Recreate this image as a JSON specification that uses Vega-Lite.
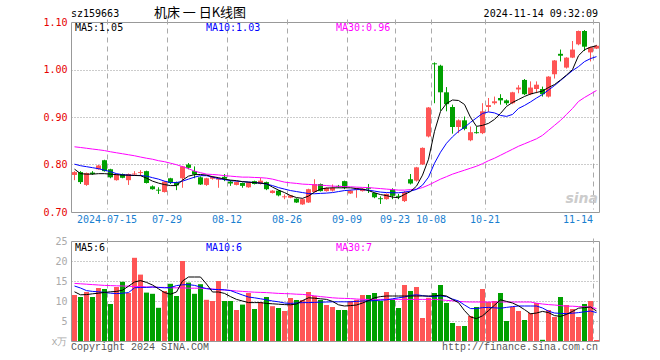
{
"$schema": "https://vega.github.io/schema/vega-lite/v6.json",
"padding": {"left": 42, "top": 6, "right": 61, "bottom": 9},
"background": "#ffffff",
"bounds": "flush",
"spacing": 29,
"config": {
  "view": {"stroke": "#999999", "strokeWidth": 1},
  "axis": {"labelFont": "DejaVu Sans Mono", "labelFontSize": 10, "ticks": false, "domain": false, "titleFontSize": 1, "labelOverlap": false},
  "axisY": {"labelOverlap": false, "labelSeparation": 0},
  "text": {"font": "DejaVu Sans Mono", "fontSize": 10}
},
"datasets": {
"k": [
{"d":"2024-07-05","o":0.778,"h":0.786,"l":0.767,"c":0.784,"v":11.5,"m5":0.7902,"m10":0.8007,"m30":0.8373,"v5":12.3,"v10":13.75,"v30":14.4},
{"d":"2024-07-08","o":0.784,"h":0.786,"l":0.759,"c":0.763,"v":11.0,"m5":0.7807,"m10":0.7975,"m30":0.8358,"v5":11.55,"v10":13.25,"v30":14.3},
{"d":"2024-07-09","o":0.757,"h":0.783,"l":0.755,"c":0.782,"v":12.25,"m5":0.7797,"m10":0.7954,"m30":0.8342,"v5":11.6,"v10":12.6,"v30":14.2},
{"d":"2024-07-10","o":0.783,"h":0.786,"l":0.778,"c":0.780,"v":11.0,"m5":0.7797,"m10":0.7933,"m30":0.8325,"v5":11.8,"v10":12.4,"v30":14.1},
{"d":"2024-07-11","o":0.790,"h":0.799,"l":0.789,"c":0.798,"v":13.25,"m5":0.7807,"m10":0.7912,"m30":0.8310,"v5":11.95,"v10":12.3,"v30":14.0},
{"d":"2024-07-12","o":0.809,"h":0.810,"l":0.785,"c":0.786,"v":13.0,"m5":0.7807,"m10":0.7880,"m30":0.8293,"v5":12.15,"v10":12.15,"v30":13.9},
{"d":"2024-07-15","o":0.790,"h":0.791,"l":0.771,"c":0.773,"v":9.25,"m5":0.7797,"m10":0.7849,"m30":0.8268,"v5":12.3,"v10":11.95,"v30":13.85},
{"d":"2024-07-16","o":0.767,"h":0.781,"l":0.766,"c":0.780,"v":13.5,"m5":0.7786,"m10":0.7807,"m30":0.8247,"v5":12.4,"v10":11.85,"v30":13.8},
{"d":"2024-07-17","o":0.780,"h":0.781,"l":0.771,"c":0.772,"v":14.8,"m5":0.7776,"m10":0.7786,"m30":0.8226,"v5":12.7,"v10":11.95,"v30":13.75},
{"d":"2024-07-18","o":0.767,"h":0.781,"l":0.757,"c":0.780,"v":12.0,"m5":0.7776,"m10":0.7776,"m30":0.8205,"v5":13.7,"v10":12.1,"v30":13.7},
{"d":"2024-07-19","o":0.779,"h":0.786,"l":0.776,"c":0.781,"v":20.8,"m5":0.7769,"m10":0.7769,"m30":0.8184,"v5":14.75,"v10":13.3,"v30":13.6},
{"d":"2024-07-22","o":0.782,"h":0.788,"l":0.776,"c":0.784,"v":16.6,"m5":0.7765,"m10":0.7769,"m30":0.8157,"v5":15.1,"v10":13.4,"v30":13.6},
{"d":"2024-07-23","o":0.786,"h":0.787,"l":0.760,"c":0.761,"v":12.1,"m5":0.7713,"m10":0.7755,"m30":0.8132,"v5":14.65,"v10":13.4,"v30":13.5},
{"d":"2024-07-24","o":0.754,"h":0.756,"l":0.747,"c":0.748,"v":11.8,"m5":0.7650,"m10":0.7723,"m30":0.8111,"v5":14.0,"v10":13.5,"v30":13.5},
{"d":"2024-07-25","o":0.747,"h":0.752,"l":0.738,"c":0.745,"v":8.3,"m5":0.7608,"m10":0.7692,"m30":0.8080,"v5":13.05,"v10":13.4,"v30":13.4},
{"d":"2024-07-26","o":0.742,"h":0.765,"l":0.741,"c":0.764,"v":12.5,"m5":0.7577,"m10":0.7650,"m30":0.8059,"v5":12.1,"v10":13.3,"v30":13.4},
{"d":"2024-07-29","o":0.771,"h":0.772,"l":0.759,"c":0.761,"v":14.3,"m5":0.7556,"m10":0.7619,"m30":0.8027,"v5":11.7,"v10":13.35,"v30":13.3},
{"d":"2024-07-30","o":0.763,"h":0.764,"l":0.746,"c":0.756,"v":11.25,"m5":0.7556,"m10":0.7619,"m30":0.7996,"v5":12.25,"v10":13.85,"v30":13.3},
{"d":"2024-07-31","o":0.771,"h":0.797,"l":0.751,"c":0.796,"v":20.0,"m5":0.7671,"m10":0.7650,"m30":0.7954,"v5":15.0,"v10":14.05,"v30":13.3},
{"d":"2024-08-01","o":0.800,"h":0.803,"l":0.790,"c":0.793,"v":14.6,"m5":0.7755,"m10":0.7692,"m30":0.7912,"v5":16.0,"v10":14.1,"v30":13.2},
{"d":"2024-08-02","o":0.786,"h":0.796,"l":0.771,"c":0.779,"v":11.8,"m5":0.7786,"m10":0.7734,"m30":0.7860,"v5":16.0,"v10":13.9,"v30":13.2},
{"d":"2024-08-05","o":0.773,"h":0.775,"l":0.757,"c":0.758,"v":14.2,"m5":0.7790,"m10":0.7765,"m30":0.7828,"v5":16.0,"v10":13.5,"v30":13.2},
{"d":"2024-08-06","o":0.757,"h":0.772,"l":0.755,"c":0.771,"v":10.3,"m5":0.7776,"m10":0.7765,"m30":0.7797,"v5":14.25,"v10":13.1,"v30":13.1},
{"d":"2024-08-07","o":0.770,"h":0.776,"l":0.768,"c":0.774,"v":10.0,"m5":0.7744,"m10":0.7734,"m30":0.7790,"v5":12.25,"v10":12.9,"v30":13.0},
{"d":"2024-08-08","o":0.768,"h":0.772,"l":0.751,"c":0.771,"v":15.0,"m5":0.7723,"m10":0.7702,"m30":0.7780,"v5":12.25,"v10":12.85,"v30":12.85},
{"d":"2024-08-09","o":0.774,"h":0.780,"l":0.765,"c":0.770,"v":10.0,"m5":0.7692,"m10":0.7681,"m30":0.7765,"v5":11.9,"v10":12.8,"v30":12.75},
{"d":"2024-08-12","o":0.764,"h":0.767,"l":0.755,"c":0.760,"v":10.0,"m5":0.7671,"m10":0.7660,"m30":0.7755,"v5":11.1,"v10":12.6,"v30":12.65},
{"d":"2024-08-13","o":0.757,"h":0.764,"l":0.756,"c":0.763,"v":7.75,"m5":0.7660,"m10":0.7650,"m30":0.7744,"v5":10.4,"v10":12.05,"v30":12.5},
{"d":"2024-08-14","o":0.761,"h":0.762,"l":0.751,"c":0.755,"v":9.1,"m5":0.7639,"m10":0.7639,"m30":0.7734,"v5":10.0,"v10":11.5,"v30":12.4},
{"d":"2024-08-15","o":0.752,"h":0.763,"l":0.751,"c":0.762,"v":12.0,"m5":0.7629,"m10":0.7629,"m30":0.7734,"v5":9.6,"v10":11.0,"v30":12.3},
{"d":"2024-08-16","o":0.765,"h":0.766,"l":0.758,"c":0.759,"v":8.0,"m5":0.7619,"m10":0.7619,"m30":0.7727,"v5":9.6,"v10":10.8,"v30":12.2},
{"d":"2024-08-19","o":0.759,"h":0.772,"l":0.758,"c":0.766,"v":9.75,"m5":0.7608,"m10":0.7608,"m30":0.7723,"v5":9.6,"v10":10.55,"v30":12.15},
{"d":"2024-08-20","o":0.763,"h":0.764,"l":0.746,"c":0.748,"v":11.0,"m5":0.7597,"m10":0.7587,"m30":0.7713,"v5":9.4,"v10":10.3,"v30":12.1},
{"d":"2024-08-21","o":0.740,"h":0.746,"l":0.739,"c":0.745,"v":8.7,"m5":0.7524,"m10":0.7556,"m30":0.7692,"v5":9.3,"v10":10.0,"v30":12.0},
{"d":"2024-08-22","o":0.745,"h":0.746,"l":0.733,"c":0.735,"v":8.25,"m5":0.7461,"m10":0.7514,"m30":0.7660,"v5":9.2,"v10":9.8,"v30":11.9},
{"d":"2024-08-23","o":0.731,"h":0.737,"l":0.727,"c":0.733,"v":7.5,"m5":0.7409,"m10":0.7482,"m30":0.7629,"v5":9.1,"v10":9.5,"v30":11.85},
{"d":"2024-08-26","o":0.730,"h":0.736,"l":0.729,"c":0.735,"v":10.75,"m5":0.7346,"m10":0.7451,"m30":0.7614,"v5":9.05,"v10":9.4,"v30":11.8},
{"d":"2024-08-27","o":0.728,"h":0.729,"l":0.719,"c":0.720,"v":10.25,"m5":0.7304,"m10":0.7430,"m30":0.7602,"v5":9.25,"v10":9.5,"v30":11.7},
{"d":"2024-08-28","o":0.716,"h":0.728,"l":0.715,"c":0.727,"v":10.25,"m5":0.7287,"m10":0.7409,"m30":0.7587,"v5":10.1,"v10":9.6,"v30":11.65},
{"d":"2024-08-29","o":0.720,"h":0.749,"l":0.719,"c":0.748,"v":12.25,"m5":0.7335,"m10":0.7388,"m30":0.7581,"v5":10.8,"v10":9.6,"v30":11.5},
{"d":"2024-08-30","o":0.742,"h":0.769,"l":0.741,"c":0.759,"v":11.25,"m5":0.7419,"m10":0.7384,"m30":0.7572,"v5":10.7,"v10":9.65,"v30":11.3},
{"d":"2024-09-02","o":0.759,"h":0.760,"l":0.743,"c":0.744,"v":10.25,"m5":0.7482,"m10":0.7392,"m30":0.7566,"v5":10.55,"v10":9.7,"v30":11.1},
{"d":"2024-09-03","o":0.744,"h":0.752,"l":0.743,"c":0.751,"v":9.0,"m5":0.7503,"m10":0.7398,"m30":0.7556,"v5":10.4,"v10":9.75,"v30":10.95},
{"d":"2024-09-04","o":0.745,"h":0.758,"l":0.743,"c":0.751,"v":8.5,"m5":0.7509,"m10":0.7409,"m30":0.7545,"v5":9.9,"v10":9.8,"v30":10.8},
{"d":"2024-09-05","o":0.755,"h":0.757,"l":0.751,"c":0.753,"v":7.75,"m5":0.7509,"m10":0.7430,"m30":0.7539,"v5":9.05,"v10":9.8,"v30":10.7},
{"d":"2024-09-06","o":0.765,"h":0.766,"l":0.748,"c":0.751,"v":7.75,"m5":0.7509,"m10":0.7451,"m30":0.7535,"v5":8.75,"v10":9.8,"v30":10.65},
{"d":"2024-09-09","o":0.739,"h":0.746,"l":0.738,"c":0.745,"v":10.0,"m5":0.7509,"m10":0.7461,"m30":0.7530,"v5":8.85,"v10":9.8,"v30":10.6},
{"d":"2024-09-10","o":0.747,"h":0.751,"l":0.730,"c":0.750,"v":10.3,"m5":0.7493,"m10":0.7472,"m30":0.7524,"v5":9.0,"v10":9.9,"v30":10.5},
{"d":"2024-09-11","o":0.744,"h":0.750,"l":0.743,"c":0.749,"v":11.5,"m5":0.7482,"m10":0.7472,"m30":0.7518,"v5":9.5,"v10":10.0,"v30":10.4},
{"d":"2024-09-12","o":0.751,"h":0.759,"l":0.740,"c":0.749,"v":11.5,"m5":0.7451,"m10":0.7461,"m30":0.7514,"v5":10.1,"v10":10.05,"v30":10.4},
{"d":"2024-09-13","o":0.740,"h":0.741,"l":0.729,"c":0.731,"v":12.0,"m5":0.7405,"m10":0.7440,"m30":0.7503,"v5":10.8,"v10":10.1,"v30":10.4},
{"d":"2024-09-18","o":0.729,"h":0.733,"l":0.717,"c":0.727,"v":10.0,"m5":0.7367,"m10":0.7419,"m30":0.7493,"v5":11.1,"v10":10.2,"v30":10.4},
{"d":"2024-09-19","o":0.727,"h":0.739,"l":0.726,"c":0.738,"v":12.25,"m5":0.7346,"m10":0.7409,"m30":0.7482,"v5":11.25,"v10":10.3,"v30":10.4},
{"d":"2024-09-20","o":0.748,"h":0.750,"l":0.727,"c":0.734,"v":10.4,"m5":0.7314,"m10":0.7405,"m30":0.7472,"v5":11.25,"v10":10.55,"v30":10.4},
{"d":"2024-09-23","o":0.734,"h":0.738,"l":0.727,"c":0.732,"v":8.25,"m5":0.7300,"m10":0.7405,"m30":0.7461,"v5":11.25,"v10":10.8,"v30":10.4},
{"d":"2024-09-24","o":0.723,"h":0.744,"l":0.721,"c":0.742,"v":14.0,"m5":0.7371,"m10":0.7419,"m30":0.7461,"v5":11.25,"v10":11.0,"v30":10.4},
{"d":"2024-09-25","o":0.769,"h":0.780,"l":0.758,"c":0.760,"v":12.5,"m5":0.7430,"m10":0.7440,"m30":0.7472,"v5":11.25,"v10":11.4,"v30":10.4},
{"d":"2024-09-26","o":0.766,"h":0.795,"l":0.764,"c":0.794,"v":13.5,"m5":0.7545,"m10":0.7476,"m30":0.7482,"v5":11.25,"v10":11.55,"v30":10.4},
{"d":"2024-09-27","o":0.800,"h":0.836,"l":0.799,"c":0.835,"v":5.75,"m5":0.7776,"m10":0.7566,"m30":0.7514,"v5":11.25,"v10":11.35,"v30":10.4},
{"d":"2024-09-30","o":0.859,"h":0.921,"l":0.857,"c":0.920,"v":10.8,"m5":0.8111,"m10":0.7734,"m30":0.7566,"v5":11.25,"v10":11.15,"v30":10.4},
{"d":"2024-10-08","o":1.013,"h":1.015,"l":0.929,"c":1.011,"v":12.0,"m5":0.8698,"m10":0.8027,"m30":0.7629,"v5":11.3,"v10":11.1,"v30":10.4},
{"d":"2024-10-09","o":1.008,"h":1.010,"l":0.913,"c":0.952,"v":14.0,"m5":0.9117,"m10":0.8258,"m30":0.7692,"v5":11.45,"v10":11.3,"v30":10.3},
{"d":"2024-10-10","o":0.952,"h":0.963,"l":0.912,"c":0.927,"v":9.5,"m5":0.9285,"m10":0.8447,"m30":0.7744,"v5":11.25,"v10":11.1,"v30":10.15},
{"d":"2024-10-11","o":0.921,"h":0.926,"l":0.865,"c":0.879,"v":4.5,"m5":0.9358,"m10":0.8583,"m30":0.7797,"v5":10.35,"v10":10.5,"v30":10.05},
{"d":"2024-10-14","o":0.879,"h":0.895,"l":0.866,"c":0.893,"v":3.75,"m5":0.9348,"m10":0.8698,"m30":0.7839,"v5":9.6,"v10":10.0,"v30":9.9},
{"d":"2024-10-15","o":0.893,"h":0.901,"l":0.872,"c":0.875,"v":3.75,"m5":0.9264,"m10":0.8782,"m30":0.7880,"v5":7.6,"v10":9.0,"v30":9.8},
{"d":"2024-10-16","o":0.851,"h":0.880,"l":0.849,"c":0.868,"v":6.25,"m5":0.8992,"m10":0.8887,"m30":0.7922,"v5":6.0,"v10":8.1,"v30":9.75},
{"d":"2024-10-17","o":0.868,"h":0.880,"l":0.865,"c":0.866,"v":8.5,"m5":0.8803,"m10":0.8981,"m30":0.7964,"v5":5.6,"v10":8.1,"v30":9.75},
{"d":"2024-10-18","o":0.866,"h":0.929,"l":0.864,"c":0.912,"v":13.0,"m5":0.8824,"m10":0.9075,"m30":0.8017,"v5":6.3,"v10":8.35,"v30":9.75},
{"d":"2024-10-21","o":0.921,"h":0.940,"l":0.911,"c":0.925,"v":9.75,"m5":0.8866,"m10":0.9107,"m30":0.8080,"v5":7.6,"v10":8.4,"v30":9.75},
{"d":"2024-10-22","o":0.929,"h":0.943,"l":0.926,"c":0.933,"v":10.0,"m5":0.8950,"m10":0.9086,"m30":0.8132,"v5":8.95,"v10":8.3,"v30":9.75},
{"d":"2024-10-23","o":0.940,"h":0.948,"l":0.926,"c":0.935,"v":12.0,"m5":0.9075,"m10":0.9033,"m30":0.8195,"v5":10.3,"v10":8.2,"v30":9.75},
{"d":"2024-10-24","o":0.935,"h":0.937,"l":0.925,"c":0.929,"v":5.0,"m5":0.9222,"m10":0.9013,"m30":0.8258,"v5":9.9,"v10":8.4,"v30":9.75},
{"d":"2024-10-25","o":0.929,"h":0.953,"l":0.927,"c":0.952,"v":8.5,"m5":0.9306,"m10":0.9054,"m30":0.8321,"v5":9.5,"v10":8.6,"v30":9.75},
{"d":"2024-10-28","o":0.958,"h":0.967,"l":0.950,"c":0.962,"v":7.5,"m5":0.9369,"m10":0.9180,"m30":0.8384,"v5":8.8,"v10":8.75,"v30":9.75},
{"d":"2024-10-29","o":0.978,"h":0.980,"l":0.946,"c":0.948,"v":5.25,"m5":0.9432,"m10":0.9243,"m30":0.8436,"v5":7.85,"v10":8.75,"v30":9.75},
{"d":"2024-10-30","o":0.948,"h":0.975,"l":0.946,"c":0.962,"v":7.0,"m5":0.9484,"m10":0.9317,"m30":0.8488,"v5":6.8,"v10":8.75,"v30":9.75},
{"d":"2024-10-31","o":0.959,"h":0.975,"l":0.950,"c":0.968,"v":9.5,"m5":0.9516,"m10":0.9400,"m30":0.8541,"v5":7.0,"v10":8.75,"v30":9.45},
{"d":"2024-11-01","o":0.959,"h":0.964,"l":0.943,"c":0.948,"v":0.3,"m5":0.9547,"m10":0.9474,"m30":0.8614,"v5":7.4,"v10":8.25,"v30":9.25},
{"d":"2024-11-04","o":0.943,"h":0.986,"l":0.941,"c":0.985,"v":7.75,"m5":0.9621,"m10":0.9568,"m30":0.8719,"v5":7.1,"v10":7.45,"v30":9.1},
{"d":"2024-11-05","o":0.990,"h":1.020,"l":0.981,"c":1.019,"v":6.0,"m5":0.9683,"m10":0.9662,"m30":0.8824,"v5":6.35,"v10":7.0,"v30":9.0},
{"d":"2024-11-06","o":1.033,"h":1.042,"l":1.017,"c":1.029,"v":11.0,"m5":0.9778,"m10":0.9767,"m30":0.8929,"v5":6.15,"v10":6.9,"v30":8.85},
{"d":"2024-11-07","o":1.004,"h":1.026,"l":1.002,"c":1.025,"v":9.0,"m5":0.9883,"m10":0.9872,"m30":0.9054,"v5":6.65,"v10":6.85,"v30":8.7},
{"d":"2024-11-08","o":1.025,"h":1.060,"l":1.024,"c":1.042,"v":8.0,"m5":0.9998,"m10":0.9977,"m30":0.9180,"v5":7.4,"v10":6.95,"v30":8.7},
{"d":"2024-11-11","o":1.053,"h":1.082,"l":1.051,"c":1.081,"v":6.0,"m5":1.0291,"m10":1.0061,"m30":0.9327,"v5":8.2,"v10":7.1,"v30":8.6},
{"d":"2024-11-12","o":1.081,"h":1.083,"l":1.039,"c":1.048,"v":9.25,"m5":1.0417,"m10":1.0166,"m30":0.9411,"v5":8.35,"v10":7.3,"v30":8.55},
{"d":"2024-11-13","o":1.036,"h":1.048,"l":1.017,"c":1.047,"v":10.0,"m5":1.0469,"m10":1.0229,"m30":0.9484,"v5":8.5,"v10":7.5,"v30":8.5},
{"d":"2024-11-14","o":1.044,"h":1.052,"l":1.043,"c":1.050,"v":0.25,"m5":1.0501,"m10":1.0271,"m30":0.9558,"v5":7.5,"v10":7.1,"v30":8.1}
]
},
"vconcat": [
{
  "width": 528,
  "height": 190,
  "data": {"name": "k"},
  "encoding": {
    "x": {"field": "d", "type": "ordinal", "title": null,
      "scale": {"type": "band", "paddingInner": 0, "paddingOuter": 0},
      "axis": {"values": ["2024-07-15","2024-07-29","2024-08-12","2024-08-26","2024-09-09","2024-09-23","2024-10-08","2024-10-21","2024-11-14"],
        "translate": -2.5, "grid": true, "gridColor": "#aaaaaa", "gridDash": [5, 4], "labelAngle": 0, "labelColor": "#1a7fd0",
        "labelPadding": 5, "labelOverlap": false, "labelBound": false,
        "labelAlign": {"condition": {"test": "datum.value == '2024-11-14'", "value": "right"}, "value": "center"},
        "labelExpr": "datum.value == '2024-07-15' ? datum.value : substring(datum.value, 5)"}}
  },
  "layer": [
    {"mark": {"type": "rule", "xOffset": 0.5, "strokeWidth": 1},
     "encoding": {
       "y": {"field": "l", "type": "quantitative", "title": null,
         "scale": {"domain": [0.7, 1.1], "nice": false, "zero": false},
         "axis": {"tickCount": 4, "format": ".2f", "labelColor": "#e60000", "labelPadding": 4, "labelOverlap": false, "grid": true, "gridColor": "#999999", "gridDash": [1, 2], "gridOpacity": {"condition": {"test": "datum.value < 0.75 || datum.value > 1.05", "value": 0}, "value": 1}}},
       "y2": {"field": "h"},
       "color": {"condition": {"test": "datum.c >= datum.o", "value": "#ff5555"}, "value": "#00a000"}
     }},
    {"mark": {"type": "bar", "size": 5, "xOffset": 0.5},
     "encoding": {
       "y": {"field": "o", "type": "quantitative", "title": null},
       "y2": {"field": "c"},
       "color": {"condition": {"test": "datum.c >= datum.o", "value": "#ff5555"}, "value": "#00a000"}
     }},
    {"mark": {"type": "line", "color": "#ff00ff", "strokeWidth": 1, "xOffset": 0.5},
     "encoding": {"y": {"field": "m30", "type": "quantitative", "title": null}}},
    {"mark": {"type": "line", "color": "#0000ff", "strokeWidth": 1, "xOffset": 0.5},
     "encoding": {"y": {"field": "m10", "type": "quantitative", "title": null}}},
    {"mark": {"type": "line", "color": "#000000", "strokeWidth": 1, "xOffset": 0.5},
     "encoding": {"y": {"field": "m5", "type": "quantitative", "title": null}}},
    {"data": {"values": [{}]},
     "mark": {"type": "text", "align": "left", "baseline": "alphabetic", "dx": -3, "dy": -5, "color": "#000000"},
     "encoding": {"x": {"datum": "2024-07-05"}, "y": {"datum": 1.1}, "text": {"value": "sz159663"}}},
    {"data": {"values": [{}]},
     "mark": {"type": "text", "align": "center", "baseline": "alphabetic", "dy": -5, "color": "#000000", "font": "Noto Sans CJK SC", "fontSize": 13},
     "encoding": {"x": {"datum": "2024-08-05"}, "y": {"datum": 1.1}, "text": {"value": "机床 一 日K线图"}}},
    {"data": {"values": [{}]},
     "mark": {"type": "text", "align": "right", "baseline": "alphabetic", "dx": 2, "dy": -5, "color": "#000000"},
     "encoding": {"x": {"datum": "2024-11-14"}, "y": {"datum": 1.1}, "text": {"value": "2024-11-14 09:32:09"}}},
    {"data": {"values": [{}]},
     "mark": {"type": "text", "align": "left", "baseline": "top", "dx": 1, "dy": 1, "color": "#000000"},
     "encoding": {"x": {"datum": "2024-07-05"}, "y": {"datum": 1.1}, "text": {"value": "MA5:1.05"}}},
    {"data": {"values": [{}]},
     "mark": {"type": "text", "align": "left", "baseline": "top", "dx": 0, "dy": 1, "color": "#0000ff"},
     "encoding": {"x": {"datum": "2024-08-06"}, "y": {"datum": 1.1}, "text": {"value": "MA10:1.03"}}},
    {"data": {"values": [{}]},
     "mark": {"type": "text", "align": "left", "baseline": "top", "dx": -2, "dy": 1, "color": "#ff00ff"},
     "encoding": {"x": {"datum": "2024-09-05"}, "y": {"datum": 1.1}, "text": {"value": "MA30:0.96"}}},
    {"data": {"values": [{}]},
     "mark": {"type": "text", "align": "right", "baseline": "bottom", "dx": 2, "dy": -6, "color": "#cccccc", "font": "DejaVu Sans", "fontSize": 14, "fontWeight": "bold", "fontStyle": "italic"},
     "encoding": {"x": {"datum": "2024-11-14"}, "y": {"datum": 0.7}, "text": {"value": "sina"}}}
  ]
},
{
  "width": 528,
  "height": 100,
  "data": {"name": "k"},
  "encoding": {
    "x": {"field": "d", "type": "ordinal", "title": null,
      "scale": {"type": "band", "paddingInner": 0, "paddingOuter": 0},
      "axis": {"values": ["2024-07-15","2024-07-29","2024-08-12","2024-08-26","2024-09-09","2024-09-23","2024-10-08","2024-10-21","2024-11-14"],
        "translate": -2.5, "grid": true, "gridColor": "#aaaaaa", "gridDash": [5, 4], "labels": false}}
  },
  "layer": [
    {"mark": {"type": "bar", "size": 5, "xOffset": 0.5},
     "encoding": {
       "y": {"field": "v", "type": "quantitative", "title": null,
         "scale": {"domain": [0, 25], "nice": false},
         "axis": {"tickCount": 5, "labelColor": "#aaaaaa", "labelPadding": 4, "labelOverlap": false, "labelBound": false, "labelExpr": "datum.value == 0 ? 'x万' : datum.label", "grid": true, "gridColor": "#999999", "gridDash": [1, 2], "gridOpacity": {"condition": {"test": "datum.value < 1 || datum.value > 24", "value": 0}, "value": 1}}},
       "color": {"condition": {"test": "datum.c >= datum.o", "value": "#ff5555"}, "value": "#00a000"}
     }},
    {"mark": {"type": "line", "color": "#ff00ff", "strokeWidth": 1, "xOffset": 0.5},
     "encoding": {"y": {"field": "v30", "type": "quantitative", "title": null}}},
    {"mark": {"type": "line", "color": "#0000ff", "strokeWidth": 1, "xOffset": 0.5},
     "encoding": {"y": {"field": "v10", "type": "quantitative", "title": null}}},
    {"mark": {"type": "line", "color": "#000000", "strokeWidth": 1, "xOffset": 0.5},
     "encoding": {"y": {"field": "v5", "type": "quantitative", "title": null}}},
    {"data": {"values": [{}]},
     "mark": {"type": "text", "align": "left", "baseline": "top", "dx": 1, "dy": 2, "color": "#000000"},
     "encoding": {"x": {"datum": "2024-07-05"}, "y": {"datum": 25}, "text": {"value": "MA5:6"}}},
    {"data": {"values": [{}]},
     "mark": {"type": "text", "align": "left", "baseline": "top", "dx": 0, "dy": 2, "color": "#0000ff"},
     "encoding": {"x": {"datum": "2024-08-06"}, "y": {"datum": 25}, "text": {"value": "MA10:6"}}},
    {"data": {"values": [{}]},
     "mark": {"type": "text", "align": "left", "baseline": "top", "dx": -2, "dy": 2, "color": "#ff00ff"},
     "encoding": {"x": {"datum": "2024-09-05"}, "y": {"datum": 25}, "text": {"value": "MA30:7"}}},
    {"data": {"values": [{}]},
     "mark": {"type": "text", "align": "left", "baseline": "alphabetic", "dx": -3, "dy": 9, "color": "#555555", "font": "Liberation Mono"},
     "encoding": {"x": {"datum": "2024-07-05"}, "y": {"datum": 0}, "text": {"value": "Copyright 2024 SINA.COM"}}},
    {"data": {"values": [{}]},
     "mark": {"type": "text", "align": "right", "baseline": "alphabetic", "dx": 2, "dy": 9, "color": "#555555", "font": "Liberation Mono"},
     "encoding": {"x": {"datum": "2024-11-14"}, "y": {"datum": 0}, "text": {"value": "http://finance.sina.com.cn"}}}
  ]
}
]
}
